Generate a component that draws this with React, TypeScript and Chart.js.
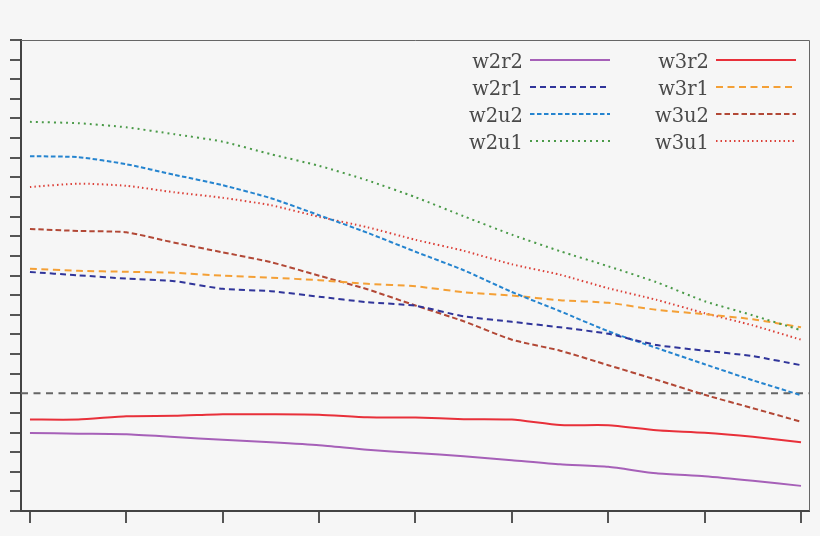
import React, { useEffect, useRef } from 'react';
import { Chart, ChartConfiguration, registerables } from 'chart.js';

Chart.register(...registerables);

// x positions (half steps between the 9 bottom ticks)
const xs = [0, 0.5, 1, 1.5, 2, 2.5, 3, 3.5, 4, 4.5, 5, 5.5, 6, 6.5, 7, 7.5, 8];
const xTicks = [0, 1, 2, 3, 4, 5, 6, 7, 8];

const w2r2 = [-2.02, -2.06, -2.09, -2.23, -2.37, -2.5, -2.65, -2.88, -3.04, -3.21, -3.41, -3.62, -3.75, -4.08, -4.23, -4.46, -4.72];
const w2r1 = [6.18, 6.01, 5.84, 5.71, 5.32, 5.2, 4.92, 4.64, 4.46, 3.92, 3.64, 3.36, 3.03, 2.46, 2.17, 1.89, 1.43];
const w2u2 = [12.08, 12.03, 11.67, 11.13, 10.6, 9.94, 9.07, 8.18, 7.21, 6.27, 5.16, 4.18, 3.16, 2.31, 1.48, 0.66, -0.1];
const w2u1 = [13.83, 13.76, 13.55, 13.2, 12.82, 12.18, 11.59, 10.85, 9.99, 9.02, 8.08, 7.24, 6.47, 5.66, 4.69, 3.97, 3.21];
const w3r2 = [-1.34, -1.34, -1.17, -1.15, -1.07, -1.07, -1.09, -1.22, -1.24, -1.32, -1.34, -1.62, -1.63, -1.89, -2.01, -2.22, -2.5];
const w3r1 = [6.35, 6.24, 6.19, 6.14, 5.99, 5.89, 5.76, 5.58, 5.45, 5.15, 4.98, 4.74, 4.61, 4.25, 4.03, 3.77, 3.36];
const w3u2 = [8.37, 8.27, 8.2, 7.67, 7.18, 6.68, 5.99, 5.3, 4.47, 3.67, 2.73, 2.17, 1.43, 0.69, -0.08, -0.76, -1.45];
const w3u1 = [10.51, 10.68, 10.57, 10.24, 9.96, 9.58, 8.99, 8.46, 7.82, 7.26, 6.57, 6.04, 5.35, 4.76, 4.08, 3.46, 2.73];

const X_MIN = -0.093;
const X_MAX = 8.083;

interface SeriesDef {
  label: string;
  values: number[];
  color: string;
  dash: number[];
}

const series: SeriesDef[] = [
  { label: 'w2r2', values: w2r2, color: '#a660b8', dash: [] },
  { label: 'w2r1', values: w2r1, color: '#30359a', dash: [6, 4] },
  { label: 'w2u2', values: w2u2, color: '#2584cf', dash: [4.5, 2.5] },
  { label: 'w2u1', values: w2u1, color: '#4a9a48', dash: [2, 4] },
  { label: 'w3r2', values: w3r2, color: '#e8303a', dash: [] },
  { label: 'w3r1', values: w3r1, color: '#f4a036', dash: [7, 4.5] },
  { label: 'w3u2', values: w3u2, color: '#b24836', dash: [5.5, 3] },
  { label: 'w3u1', values: w3u1, color: '#dc4038', dash: [1.5, 3] },
];

// top/right frame + two-column legend drawn inside the plot
const framePlugin = {
  id: 'frameAndLegend',
  afterDraw(chart: Chart) {
    const { ctx, chartArea } = chart;
    const { left, top, right, bottom } = chartArea;
    ctx.save();
    ctx.strokeStyle = '#666';
    ctx.lineWidth = 1;
    ctx.beginPath();
    ctx.moveTo(left, top + 0.5);
    ctx.lineTo(right + 0.5, top + 0.5);
    ctx.lineTo(right + 0.5, bottom);
    ctx.stroke();

    ctx.font = '19.5px "DejaVu Serif", serif';
    ctx.textAlign = 'right';
    ctx.textBaseline = 'alphabetic';
    series.forEach((s, i) => {
      const col = Math.floor(i / 4);
      const row = i % 4;
      const lineEnd = right - 13 - (1 - col) * 186;
      const lineStart = lineEnd - 80;
      const y = top + 20 + row * 27;
      ctx.fillStyle = '#4a4a4a';
      ctx.fillText(s.label, lineStart - 7, y + 7.5);
      ctx.strokeStyle = s.color;
      ctx.lineWidth = 2;
      ctx.setLineDash(s.dash);
      ctx.beginPath();
      ctx.moveTo(lineStart, y);
      ctx.lineTo(lineEnd, y);
      ctx.stroke();
    });
    ctx.restore();
  },
};

const App: React.FC = () => {
  const chartRef = useRef<HTMLCanvasElement>(null);
  const chartInstance = useRef<Chart | null>(null);

  useEffect(() => {
    if (!chartRef.current) return;
    if (chartInstance.current) chartInstance.current.destroy();

    const ctx = chartRef.current.getContext('2d');
    if (!ctx) return;

    const lineSets = series.map(s => ({
      label: s.label,
      data: xs.map((x, i) => ({ x, y: s.values[i] })),
      borderColor: s.color,
      borderWidth: 2,
      borderDash: s.dash,
      pointRadius: 0,
      tension: 0.2,
      fill: false,
    }));

    const config: ChartConfiguration<'line'> = {
      type: 'line',
      data: {
        datasets: [
          ...lineSets,
          {
            label: 'zero',
            data: [{ x: X_MIN, y: 0 }, { x: X_MAX, y: 0 }],
            borderColor: '#666',
            borderWidth: 2,
            borderDash: [7, 5.5],
            pointRadius: 0,
            fill: false,
          },
        ],
      },
      options: {
        animation: false,
        responsive: true,
        maintainAspectRatio: false,
        layout: { padding: { left: 10, top: 40, right: 11, bottom: 13 } },
        plugins: {
          legend: { display: false },
          tooltip: { enabled: false },
        },
        scales: {
          x: {
            type: 'linear',
            min: X_MIN,
            max: X_MAX,
            afterBuildTicks: (axis) => {
              axis.ticks = xTicks.map(v => ({ value: v }));
            },
            grid: {
              drawOnChartArea: false,
              drawTicks: true,
              tickLength: 12,
              color: '#555',
              lineWidth: 2,
            },
            border: { display: true, color: '#444', width: 2 },
            ticks: { display: false },
          },
          y: {
            type: 'linear',
            min: -6,
            max: 18,
            ticks: { display: false, stepSize: 1 },
            grid: {
              drawOnChartArea: false,
              drawTicks: true,
              tickLength: 11,
              color: '#555',
              lineWidth: 2,
            },
            border: { display: true, color: '#444', width: 2 },
          },
        },
      },
      plugins: [framePlugin],
    };

    chartInstance.current = new Chart(ctx, config);

    return () => {
      if (chartInstance.current) {
        chartInstance.current.destroy();
        chartInstance.current = null;
      }
    };
  }, []);

  return (
    <div style={{
      position: 'absolute',
      left: 0,
      top: 0,
      width: '820px',
      height: '536px',
      background: '#f6f6f6',
    }}>
      <canvas ref={chartRef} />
    </div>
  );
};

export default App;
